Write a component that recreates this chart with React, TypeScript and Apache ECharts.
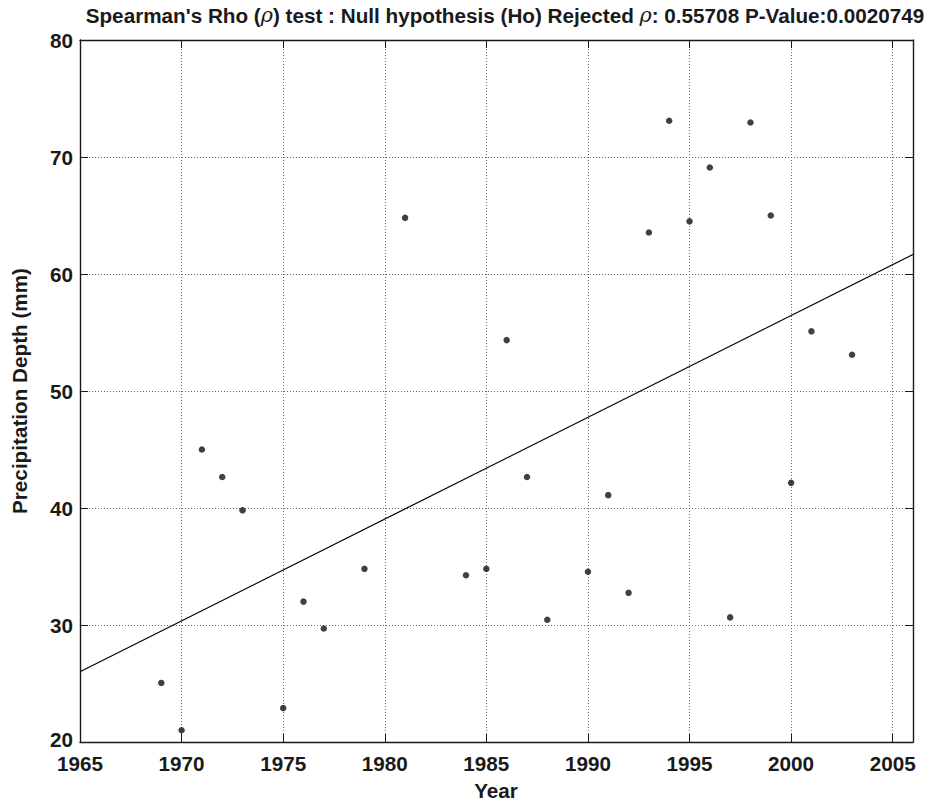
import React, { useEffect, useRef } from "react";
import * as echarts from "echarts";

// Annual precipitation depth by year
const years = [
  1969, 1970, 1971, 1972, 1973, 1975, 1976, 1977, 1979, 1981, 1984, 1985, 1986, 1987,
  1988, 1990, 1991, 1992, 1993, 1994, 1995, 1996, 1997, 1998, 1999, 2000, 2001, 2003,
];
const depthMm = [
  25.05, 21.0, 45.0, 42.65, 39.8, 22.9, 32.0, 29.7, 34.8, 64.8, 34.25, 34.8, 54.35, 42.65,
  30.45, 34.55, 41.1, 32.75, 63.55, 73.1, 64.5, 69.1, 30.65, 72.95, 65.0, 42.15, 55.1, 53.1,
];

// Test statistics shown in the title
const rhoValue = "0.55708";
const pValue = "0.0020749";

const xMin = 1965;
const xMax = 2006;
const yMin = 20;
const yMax = 80;

const FONT = "'Liberation Sans', Arial, Helvetica, sans-serif";
const INK = "#1a1a1a";
const SIZE = 20.7;

// Least-squares trend line through the yearly values
function linearFit(xs: number[], ys: number[]) {
  const n = xs.length;
  const mx = xs.reduce((a, b) => a + b, 0) / n;
  const my = ys.reduce((a, b) => a + b, 0) / n;
  let sxy = 0;
  let sxx = 0;
  for (let i = 0; i < n; i++) {
    sxy += (xs[i] - mx) * (ys[i] - my);
    sxx += (xs[i] - mx) * (xs[i] - mx);
  }
  const slope = sxy / sxx;
  return { slope, intercept: my - slope * mx };
}

export default function App() {
  const ref = useRef<HTMLDivElement>(null);

  useEffect(() => {
    if (!ref.current) return;
    const chart = echarts.init(ref.current, undefined, { renderer: "svg" });
    const fit = linearFit(years, depthMm);
    const trend = [xMin, xMax].map((x) => [x, fit.intercept + fit.slope * x]);

    const frameLine = { show: true, onZero: false, lineStyle: { color: INK, width: 1.4 } };
    const tick = { show: true, inside: true, length: 8, lineStyle: { color: INK, width: 1 } };
    const grid = { show: true, lineStyle: { color: "#6a6a6a", width: 1, type: [1, 2] } };
    const label = {
      color: INK,
      fontSize: SIZE,
      lineHeight: 18,
      fontWeight: "bold",
      fontFamily: FONT,
    };

    chart.setOption({
      animation: false,
      backgroundColor: "#ffffff",
      grid: { left: 80, right: 17, top: 40, bottom: 60, containLabel: false },
      xAxis: [
        {
          type: "value",
          min: xMin,
          max: xMax,
          interval: 5,
          position: "bottom",
          axisLine: frameLine,
          axisTick: tick,
          axisLabel: { ...label, margin: 12, showMaxLabel: false, formatter: (v: number) => String(v) },
          splitLine: grid,
        },
        {
          type: "value",
          min: xMin,
          max: xMax,
          interval: 5,
          position: "top",
          axisLine: frameLine,
          axisTick: tick,
          axisLabel: { show: false },
          splitLine: { show: false },
        },
      ],
      yAxis: [
        {
          type: "value",
          min: yMin,
          max: yMax,
          interval: 10,
          position: "left",
          axisLine: frameLine,
          axisTick: tick,
          axisLabel: {
            ...label,
            margin: 7,
            // the bottom label sits a little higher so it clears the year labels
            formatter: (v: number) => (v === yMin ? `{lo|${v}}` : String(v)),
            rich: {
              lo: { ...label, padding: [0, 0, 6, 0] },
            },
          },
          splitLine: grid,
        },
        {
          type: "value",
          min: yMin,
          max: yMax,
          interval: 10,
          position: "right",
          axisLine: frameLine,
          axisTick: tick,
          axisLabel: { show: false },
          splitLine: { show: false },
        },
      ],
      graphic: [
        {
          type: "text",
          x: 505,
          y: 15,
          style: {
            text: `Spearman's Rho ({g|ρ}) test : Null hypothesis (Ho) Rejected {g|ρ}: ${rhoValue} P-Value:${pValue}`,
            fill: INK,
            font: `bold ${SIZE}px ${FONT}`,
            textAlign: "center",
            textVerticalAlign: "middle",
            rich: {
              g: { fontStyle: "italic", fontWeight: "normal", fontSize: SIZE, fontFamily: "'DejaVu Serif', serif", fill: INK },
            },
          },
        },
        {
          type: "text",
          x: 496,
          y: 790,
          style: {
            text: "Year",
            fill: INK,
            font: `bold ${SIZE}px ${FONT}`,
            textAlign: "center",
            textVerticalAlign: "middle",
          },
        },
        {
          type: "text",
          x: 19,
          y: 391,
          rotation: Math.PI / 2,
          style: {
            text: "Precipitation Depth (mm)",
            fill: INK,
            font: `bold ${SIZE}px ${FONT}`,
            textAlign: "center",
            textVerticalAlign: "middle",
          },
        },
      ],
      series: [
        {
          type: "line",
          data: trend,
          showSymbol: false,
          symbol: "none",
          lineStyle: { color: "#000", width: 1.2 },
          silent: true,
          z: 3,
        },
        {
          type: "scatter",
          data: years.map((y, i) => [y, depthMm[i]]),
          symbol: "circle",
          symbolSize: 6.5,
          itemStyle: { color: "#111" },
          z: 4,
        },
      ],
    });

    return () => chart.dispose();
  }, []);

  return (
    <div
      ref={ref}
      style={{ position: "fixed", left: 0, top: 0, width: 930, height: 802, background: "#fff" }}
    />
  );
}
